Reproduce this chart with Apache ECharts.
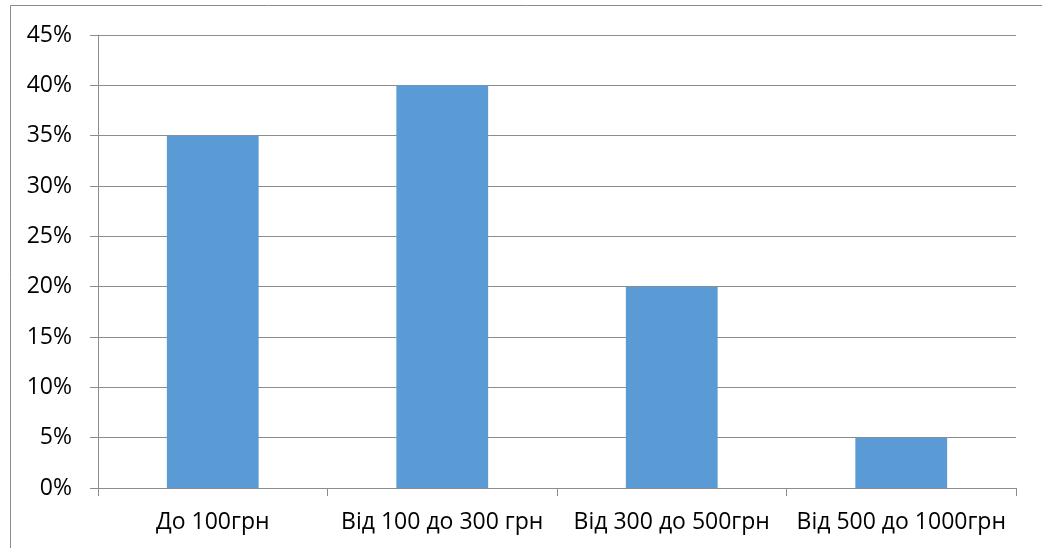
<!DOCTYPE html>
<html><head><meta charset="utf-8">
<script src="https://cdn.jsdelivr.net/npm/echarts@6/dist/echarts.min.js"></script>
<style>html,body{margin:0;padding:0;background:#fff}#c{width:1042px;height:548px}</style>
</head><body><div id="c"></div>
<script>
const categories = ['До 100грн', 'Від 100 до 300 грн', 'Від 300 до 500грн', 'Від 500 до 1000грн'];
const values = [35, 40, 20, 5];
const FONT = '"Open Sans", "Noto Sans", sans-serif';
const chart = echarts.init(document.getElementById('c'), null, {renderer: 'canvas'});
chart.setOption({
  animation: false,
  backgroundColor: '#fff',
  graphic: [{type: 'rect', shape: {x: 10.5, y: 5.5, width: 1200, height: 700}, style: {fill: 'none', stroke: '#8c8c8c', lineWidth: 1}, silent: true}],
  grid: {left: 98, right: 26, top: 35, bottom: 60},
  xAxis: {
    type: 'category', data: categories,
    axisLine: {lineStyle: {color: '#8c8c8c'}},
    axisTick: {show: true, alignWithLabel: false, length: 8, lineStyle: {color: '#8c8c8c'}},
    axisLabel: {color: '#000', fontFamily: FONT, fontSize: 23, margin: 23, interval: 0}
  },
  yAxis: {
    type: 'value', min: 0, max: 45, interval: 5,
    axisLine: {show: true, lineStyle: {color: '#8c8c8c'}},
    axisTick: {show: true, length: 8, lineStyle: {color: '#8c8c8c'}},
    splitLine: {lineStyle: {color: '#8c8c8c'}},
    axisLabel: {color: '#000', fontFamily: FONT, fontSize: 23, margin: 26, formatter: v => v + '%'}
  },
  series: [{type: 'bar', data: values, barWidth: '40%', itemStyle: {color: '#5b9bd5'}}]
});
</script></body></html>
